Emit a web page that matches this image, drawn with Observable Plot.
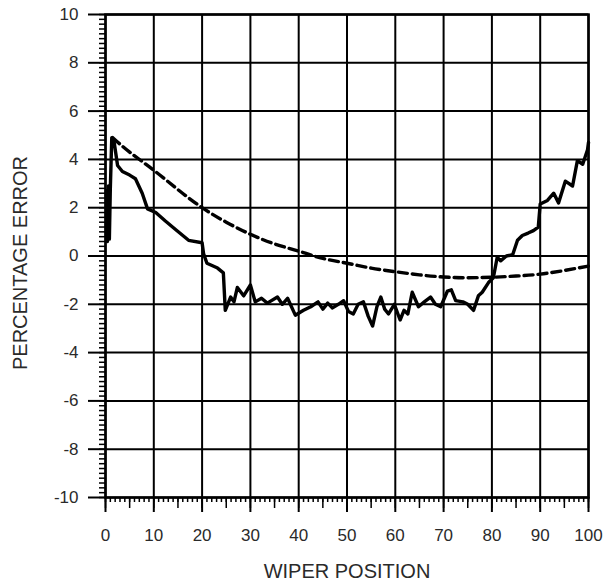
<!DOCTYPE html>
<html>
<head>
<meta charset="utf-8">
<script src="https://cdn.jsdelivr.net/npm/d3@7"></script>
<script src="https://cdn.jsdelivr.net/npm/@observablehq/plot@0.6"></script>
<style>
  html, body { margin: 0; padding: 0; background: #fff; }
</style>
</head>
<body>
<div id="chart"></div>
<script>
// Axis ticks / labels
const xTicks = [0, 10, 20, 30, 40, 50, 60, 70, 80, 90, 100];
const yTicks = [-10, -8, -6, -4, -2, 0, 2, 4, 6, 8, 10];
const xLabel = "WIPER POSITION";
const yLabel = "PERCENTAGE ERROR";

// Solid (measured) curve
const solidX = [0.2, 0.4, 0.6, 0.8, 1.0, 1.3, 1.8, 2.5, 3.5, 5.0, 6.2, 7.6, 8.7, 10.4, 12.4, 14.5, 17.2, 20.0, 20.3, 21.0, 23.2, 24.4, 24.8, 25.9, 26.6, 27.3, 28.6, 30.0, 31.0, 32.3, 33.5, 35.6, 36.6, 37.7, 39.3, 41.0, 42.5, 44.0, 45.0, 46.0, 47.0, 48.2, 49.3, 50.3, 51.3, 52.3, 53.4, 54.4, 55.3, 56.2, 57.0, 57.8, 58.6, 59.8, 61.0, 61.8, 62.6, 63.5, 64.8, 66.0, 67.3, 68.3, 69.4, 70.8, 71.6, 72.5, 74.0, 75.0, 76.2, 77.2, 78.0, 79.3, 80.3, 81.1, 81.8, 83.0, 84.3, 85.3, 86.3, 87.5, 88.6, 89.6, 90.0, 91.5, 92.8, 93.8, 95.2, 96.7, 97.7, 98.8, 99.8, 100];
const solidY = [2.7, 0.6, 2.9, 0.7, 2.8, 4.9, 4.7, 3.75, 3.5, 3.35, 3.2, 2.6, 1.95, 1.8, 1.45, 1.1, 0.65, 0.55, 0.1, -0.3, -0.5, -0.7, -2.25, -1.7, -1.9, -1.3, -1.65, -1.2, -1.9, -1.75, -1.95, -1.7, -2.0, -1.75, -2.45, -2.25, -2.1, -1.9, -2.2, -1.95, -2.15, -2.0, -1.85, -2.3, -2.4, -2.0, -1.9, -2.5, -2.9, -2.1, -1.7, -2.2, -2.4, -2.0, -2.65, -2.25, -2.4, -1.5, -2.1, -1.9, -1.7, -2.0, -2.1, -1.45, -1.4, -1.85, -1.9, -2.0, -2.25, -1.65, -1.5, -1.1, -0.9, -0.05, -0.2, 0.0, 0.05, 0.65, 0.85, 0.95, 1.05, 1.2, 2.15, 2.3, 2.6, 2.2, 3.1, 2.9, 3.95, 3.8, 4.4, 4.7];

// Dashed (theoretical) curve
const dashX = [1.5, 5, 10, 15, 20, 25, 30, 35, 40, 45, 50, 55, 60, 65, 70, 75, 80, 85, 90, 95, 100];
const dashY = [4.9, 4.3, 3.55, 2.75, 2.0, 1.4, 0.9, 0.5, 0.2, -0.1, -0.3, -0.5, -0.65, -0.78, -0.87, -0.9, -0.88, -0.83, -0.75, -0.6, -0.42];

const solid = solidX.map((x, i) => ({x, y: solidY[i]}));
const dashed = dashX.map((x, i) => ({x, y: dashY[i]}));

const xMinor = d3.range(0, 101, 1);
const xMid = d3.range(0, 101, 5);
const yMinor = d3.range(-50, 51, 1).map(k => +(k * 0.2).toFixed(1));

const font = "Liberation Sans, Arial, Helvetica, sans-serif";
const ink = "#2a2a2a";

const chart = Plot.plot({
  width: 607,
  height: 584,
  marginLeft: 105,
  marginRight: 19,
  marginTop: 14,
  marginBottom: 87,
  style: {fontFamily: font, fontSize: "17px", color: ink, background: "#fff"},
  x: {domain: [0, 100]},
  y: {domain: [-10, 10]},
  marks: [
    Plot.gridX(xTicks, {stroke: "#000", strokeOpacity: 1, strokeWidth: 2}),
    Plot.gridY(yTicks, {stroke: "#000", strokeOpacity: 1, strokeWidth: 2}),
    Plot.axisX(xMinor, {tickSize: 5, strokeWidth: 1.5, text: null, label: null, stroke: "#000"}),
    Plot.axisX(xMid, {tickSize: 11, strokeWidth: 1.5, text: null, label: null, stroke: "#000"}),
    Plot.axisX(xTicks, {tickSize: 15, tickPadding: 16, strokeWidth: 2, stroke: "#000", label: null, fill: ink, fontSize: 17}),
    Plot.axisY(yMinor, {tickSize: 6, strokeWidth: 1.5, text: null, label: null, stroke: "#000"}),
    Plot.axisY(yTicks, {tickSize: 17, tickPadding: 10, strokeWidth: 2, stroke: "#000", label: null, tickFormat: d => String(d), fill: ink, fontSize: 17}),
    Plot.frame({stroke: "#000", strokeWidth: 2.5}),
    Plot.line(dashed, {x: "x", y: "y", stroke: "#000", strokeWidth: 3.4, strokeDasharray: "9,5", curve: "natural"}),
    Plot.line(solid, {x: "x", y: "y", stroke: "#000", strokeWidth: 3.4, strokeLinejoin: "round"}),
    Plot.text([xLabel], {frameAnchor: "bottom", dy: 80, text: d => d, fontSize: 20, fill: ink, fontFamily: font}),
    Plot.text([yLabel], {frameAnchor: "left", textAnchor: "middle", dx: -85, dy: 7, rotate: -90, text: d => d, fontSize: 20, fill: ink, fontFamily: font})
  ]
});
document.getElementById("chart").appendChild(chart);
</script>
</body>
</html>
